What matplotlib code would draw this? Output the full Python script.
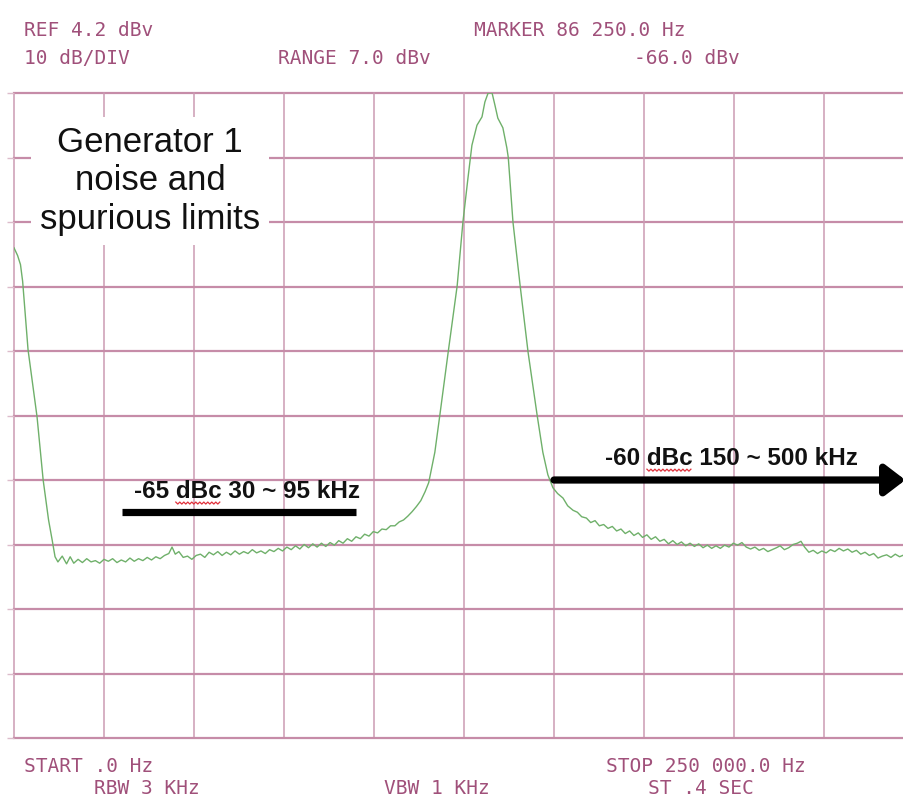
import matplotlib.pyplot as plt
import numpy as np

# analyzer settings
ref_dbv = 4.2
db_per_div = 10
start_khz = 0.0
stop_khz = 250.0
n_div = 10

# trace (kHz, dBV)
trace_khz = [
    0.0, 1.0, 1.8, 2.4, 3.9, 6.4, 8.1, 9.6, 10.6, 11.4, 12.2,
    13.4, 14.6, 15.6, 16.6, 17.8, 19.0, 20.2, 21.4, 22.6, 23.8,
    25.0, 26.2, 27.4, 28.6, 29.8, 31.0, 32.2, 33.4, 34.6, 35.8,
    37.0, 38.2, 39.4, 40.6, 41.8, 43.0, 43.9, 44.8, 45.8, 47.0,
    48.2, 49.4, 50.6, 51.8, 53.0, 54.2, 55.4, 56.6, 57.8, 59.0,
    60.2, 61.4, 62.6, 63.8, 65.0, 66.2, 67.4, 68.6, 69.8, 71.0,
    72.2, 73.4, 74.6, 75.8, 77.0, 78.2, 79.4, 80.6, 81.8, 83.0,
    84.2, 85.4, 86.6, 87.8, 89.0, 90.2, 91.4, 92.6, 93.8, 95.0,
    96.2, 97.4, 98.6, 99.8, 101.0, 102.2, 103.4, 104.6, 105.8, 107.0,
    108.2, 109.4, 110.6, 111.8, 113.0, 114.2, 115.2, 116.0, 116.9, 118.3,
    120.6, 123.1, 124.7, 126.1, 127.2, 128.6, 130.0, 130.8, 131.7, 132.8,
    133.6, 134.4, 135.8, 136.9, 137.3, 138.6, 140.6, 142.8, 145.3, 146.9,
    148.3, 149.7, 151.0, 152.5, 153.8, 155.3, 156.5, 157.7, 159.0, 160.2,
    161.4, 162.6, 163.8, 165.0, 166.2, 167.4, 168.6, 169.8, 171.0, 172.2,
    173.4, 174.6, 175.8, 177.0, 178.2, 179.4, 180.6, 181.8, 183.0, 184.2,
    185.4, 186.6, 187.8, 189.0, 190.2, 191.4, 192.6, 193.8, 195.0, 196.2,
    197.4, 198.6, 199.8, 201.0, 202.2, 203.4, 204.6, 205.8, 207.0, 208.2,
    209.4, 210.6, 211.8, 212.8, 214.0, 215.2, 216.4, 217.6, 218.6, 219.6,
    220.8, 222.0, 223.2, 224.4, 225.6, 226.8, 228.0, 229.2, 230.4, 231.6,
    232.8, 234.0, 235.2, 236.4, 237.6, 238.8, 240.0, 241.2, 242.4, 243.6,
    244.8, 246.0, 247.2, 248.4, 250.0,
]
trace_dbv = [
    -19.8, -21.0, -22.4, -25.0, -35.6, -46.0, -55.8, -62.0, -65.1, -67.7, -68.5,
    -67.6, -68.8, -67.7, -68.7, -68.1, -68.6, -68.0, -68.5, -68.3, -68.7,
    -68.1, -68.4, -68.0, -68.6, -68.2, -68.5, -67.9, -68.4, -68.0, -68.3,
    -67.8, -68.2, -67.7, -68.0, -67.5, -67.2, -66.2, -67.3, -66.9, -67.8,
    -67.6, -68.1, -67.5, -67.3, -67.8, -67.0, -67.4, -66.9, -67.5, -67.0,
    -67.4, -66.8, -67.3, -66.9, -67.2, -66.6, -67.1, -66.8, -67.2, -66.6,
    -66.9, -66.4, -66.8, -66.2, -66.6, -66.0, -66.5, -65.8, -66.3, -65.7,
    -66.2, -65.6, -66.1, -65.5, -65.9, -65.2, -65.6, -64.9, -65.3, -64.6,
    -64.9, -64.2, -64.5, -63.8, -64.0, -63.4, -63.5, -62.9, -62.9, -62.3,
    -62.0, -61.4, -60.7, -59.9, -59.0, -57.6, -56.2, -54.0, -51.5, -45.7,
    -36.0, -25.7, -15.8, -9.0, -3.9, -0.8, 0.5, 2.8, 4.2, 4.2,
    2.3, 0.3, -1.2, -4.3, -5.8, -15.8, -25.7, -36.0, -45.7, -51.5,
    -55.0, -57.0, -57.9, -58.6, -59.8, -60.5, -60.8, -61.5, -61.7, -62.4,
    -62.1, -62.9, -62.7, -63.3, -63.0, -63.7, -63.4, -64.1, -63.7, -64.4,
    -64.0, -64.7, -64.3, -65.0, -64.6, -65.3, -65.0, -65.7, -65.2, -65.8,
    -65.4, -66.0, -65.6, -66.1, -65.7, -66.3, -65.9, -66.4, -66.0, -66.4,
    -65.9, -66.2, -65.6, -65.9, -65.5, -66.2, -66.5, -66.2, -66.7, -66.4,
    -66.9, -66.6, -66.3, -66.0, -66.6, -66.3, -65.8, -65.6, -65.3, -66.2,
    -67.0, -66.7, -67.2, -66.8, -67.1, -66.6, -66.9, -66.4, -66.8, -66.5,
    -67.0, -66.7, -67.3, -67.0, -67.5, -67.2, -67.9, -67.6, -67.4, -67.8,
    -67.3, -67.7, -67.4, -67.8, -67.5,
]

# spurious limits, relative to the carrier at the reference level
low_limit_dbc = -65
low_limit_khz = (30, 95)
high_limit_dbc = -60
high_limit_start_khz = 150

header_top = ["REF 4.2 dBv", "MARKER 86 250.0 Hz"]
header_mid = ["10 dB/DIV", "RANGE 7.0 dBv", "-66.0 dBv"]
footer_top = ["START .0 Hz", "STOP 250 000.0 Hz"]
footer_bot = ["RBW 3 KHz", "VBW 1 KHz", "ST .4 SEC"]

W, H = 904, 799
grid_h = '#c68ca8'
grid_v = '#cb9bb3'
screen_text = '#a0507a'
trace_color = '#6fb06a'

fig = plt.figure(figsize=(W / 100, H / 100), dpi=100)
fig.patch.set_facecolor('white')

# the screen runs a little past the right edge of the picture
ax = fig.add_axes([14 / W, 61 / H, 900 / W, 645 / H])
ax.set_xlim(start_khz, stop_khz)
ax.set_ylim(ref_dbv - n_div * db_per_div, ref_dbv)
for s in ax.spines.values():
    s.set_visible(False)
ax.set_xticks([])
ax.set_yticks([ref_dbv - k * db_per_div for k in range(n_div + 1)])
ax.tick_params(axis='y', direction='out', length=5, width=1, color='#dcbccb',
               labelleft=False)

khz_per_div = (stop_khz - start_khz) / n_div
for k in range(n_div + 1):
    ax.axvline(start_khz + k * khz_per_div, color=grid_v, lw=1.1, clip_on=False, zorder=1)
    ax.axhline(ref_dbv - k * db_per_div, color=grid_h, lw=1.6, clip_on=False, zorder=1)

ax.plot(trace_khz, trace_dbv, color=trace_color, lw=1.0, zorder=3)

# limit marks
low_y = ref_dbv + low_limit_dbc
high_y = ref_dbv + high_limit_dbc
ax.plot(low_limit_khz, [low_y, low_y], color='black', lw=5.2,
        solid_capstyle='butt', zorder=4)
ax.annotate('', xy=(247.6, high_y), xytext=(high_limit_start_khz, high_y),
            arrowprops=dict(arrowstyle='-|>,head_length=0.55,head_width=0.42',
                            mutation_scale=22, lw=5.2, color='black',
                            shrinkA=0, shrinkB=0),
            zorder=4, annotation_clip=False)

label_font = dict(family='Liberation Sans', fontweight='bold', fontsize=17.5,
                  color='#111111', zorder=5)
lbl_lo = ax.text(64.7, -58.6, '-65 dBc 30 ~ 95 kHz', ha='center', va='baseline',
                 **label_font)
lbl_hi = ax.text(199.3, -53.5, '-60 dBc 150 ~ 500 kHz', ha='center', va='baseline',
                 **label_font)

# spell-check squiggle under "dBc"
fig.canvas.draw()
renderer = fig.canvas.get_renderer()
inv = ax.transData.inverted()
for lbl, prefix in [(lbl_lo, '-65 '), (lbl_hi, '-60 ')]:
    bb = lbl.get_window_extent(renderer)
    probe = ax.text(0, 0, prefix, **label_font)
    pw = probe.get_window_extent(renderer).width
    probe2 = ax.text(0, 0, prefix + 'dBc', **label_font)
    dw = probe2.get_window_extent(renderer).width
    probe.remove()
    probe2.remove()
    x0 = bb.x0 + pw
    x1 = bb.x0 + dw
    ybase = bb.y0 + 1
    xs = np.arange(x0, x1 + 0.1, 2.0)
    ys = ybase + np.where(np.arange(len(xs)) % 2 == 0, 0.0, -2.0)
    pts = inv.transform(np.column_stack([xs, ys]))
    ax.plot(pts[:, 0], pts[:, 1], color='#e0303a', lw=0.9, zorder=6)

fig.text(150 / W, 1 - 181 / H, 'Generator 1\nnoise and\nspurious limits',
         family='Liberation Sans', fontsize=25, color='#111111', ha='center',
         va='center', multialignment='center', linespacing=1.22,
         bbox=dict(boxstyle='square,pad=0.25', facecolor='white', edgecolor='none'))

mono = dict(family='DejaVu Sans Mono', fontsize=14, color=screen_text, va='center')
fig.text(24 / W, 1 - 30 / H, header_top[0], **mono)
fig.text(474 / W, 1 - 30 / H, header_top[1], **mono)
fig.text(24 / W, 1 - 58 / H, header_mid[0], **mono)
fig.text(278 / W, 1 - 58 / H, header_mid[1], **mono)
fig.text(634 / W, 1 - 58 / H, header_mid[2], **mono)
fig.text(24 / W, 1 - 766 / H, footer_top[0], **mono)
fig.text(606 / W, 1 - 766 / H, footer_top[1], **mono)
fig.text(94 / W, 1 - 788 / H, footer_bot[0], **mono)
fig.text(384 / W, 1 - 788 / H, footer_bot[1], **mono)
fig.text(648 / W, 1 - 788 / H, footer_bot[2], **mono)

fig.savefig('out.png', dpi=100, facecolor='white')
